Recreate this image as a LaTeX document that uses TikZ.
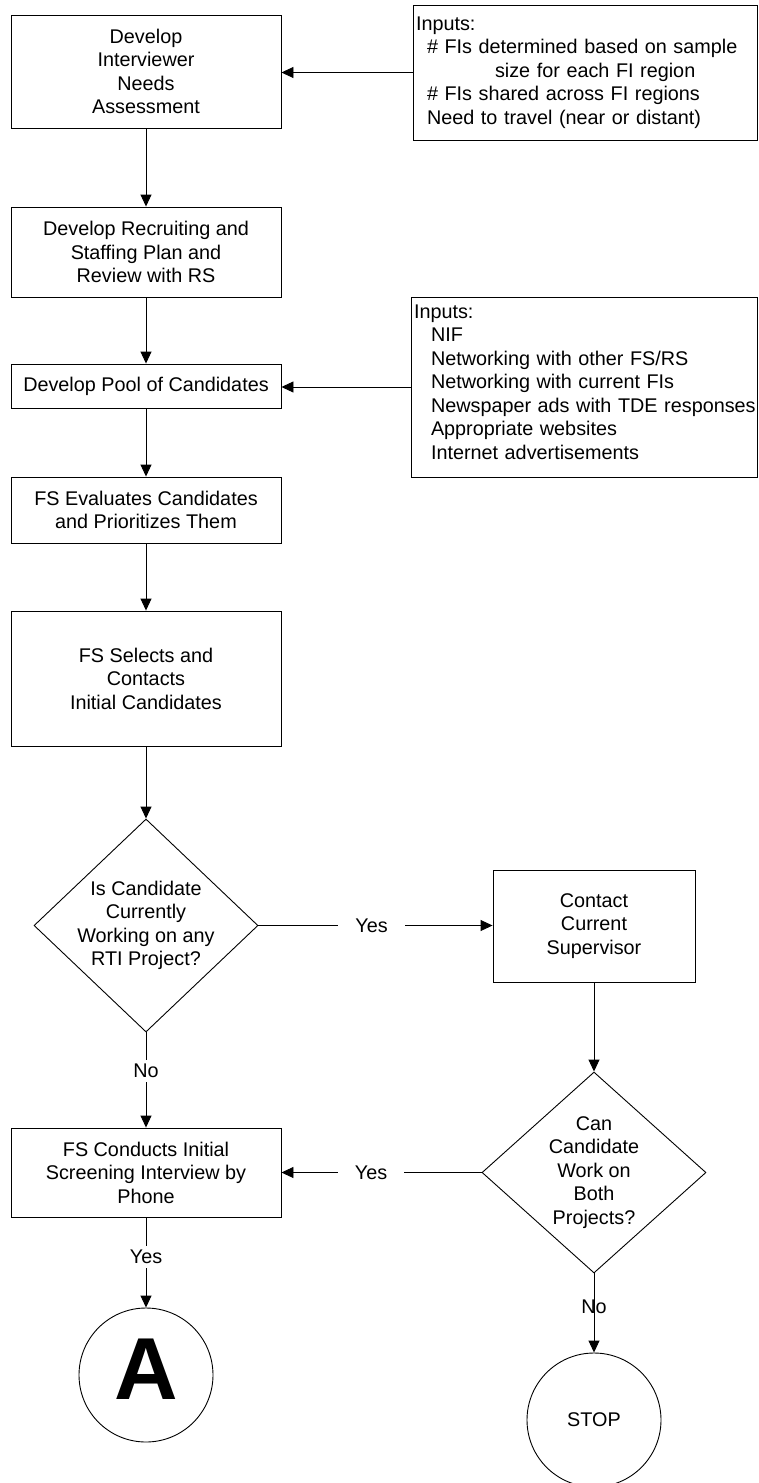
\documentclass[tikz,border=0pt]{standalone}
\usepackage{fontspec}
\setmainfont{Liberation Sans}
\usetikzlibrary{shapes.geometric,arrows.meta}
\begin{document}
\begin{tikzpicture}[x=1pt,y=-1pt,
  font=\fontsize{19.8pt}{23.5pt}\selectfont,
  box/.style={draw, line width=0.9pt, rectangle, inner sep=0pt, align=center},
  inbox/.style={draw, line width=0.9pt, rectangle, inner xsep=3pt, inner ysep=0pt, align=left},
  dec/.style={draw, line width=0.9pt, diamond, inner sep=0pt},
  term/.style={draw, line width=0.9pt, circle, inner sep=0pt, minimum size=134pt},
  arr/.style={line width=0.9pt, -{Triangle[length=12pt,width=11pt]}},
  hlbl/.style={fill=white, inner xsep=17pt, inner ysep=2pt},
  vlbl/.style={fill=white, inner xsep=2pt, inner ysep=4pt},
  plbl/.style={inner sep=0pt},
]
\useasboundingbox (0,0) rectangle (758,1483);

\node[box, minimum width=270pt, minimum height=113pt] (b1) at (146,71.5) {Develop\\Interviewer\\Needs\\Assessment};
\node[inbox, text width=338pt, minimum height=135pt] (in1) at (585,72.5) {\mbox{Inputs:}\\\mbox{\hspace*{11pt}\# FIs determined based on sample}\\\mbox{\hspace*{79pt}size for each FI region}\\\mbox{\hspace*{11pt}\# FIs shared across FI regions}\\\mbox{\hspace*{11pt}Need to travel (near or distant)}};
\node[box, minimum width=270pt, minimum height=90pt] (b2) at (146,252) {Develop Recruiting and\\Staffing Plan and\\Review with RS};
\node[box, minimum width=270pt, minimum height=44pt] (b3) at (146,386) {Develop Pool of Candidates};
\node[inbox, text width=340pt, minimum height=180pt] (in2) at (584,387) {\mbox{Inputs:}\\\mbox{\hspace*{17pt}NIF}\\\mbox{\hspace*{17pt}Networking with other FS/RS}\\\mbox{\hspace*{17pt}Networking with current FIs}\\\mbox{\hspace*{17pt}Newspaper ads with TDE responses}\\\mbox{\hspace*{17pt}Appropriate websites}\\\mbox{\hspace*{17pt}Internet advertisements}\rule[-10pt]{0pt}{0pt}};
\node[box, minimum width=270pt, minimum height=66pt] (b4) at (146,510) {FS Evaluates Candidates\\and Prioritizes Them};
\node[box, minimum width=270pt, minimum height=135pt] (b5) at (146,678.5) {FS Selects and\\Contacts\\Initial Candidates};
\node[dec, minimum width=224pt, minimum height=213pt] (d1) at (146,925.5) {};
\node[align=center, inner sep=0pt] (d1t) at (d1.center) {Is Candidate\\Currently\\Working on any\\RTI Project?};
\node[box, minimum width=202pt, minimum height=112pt] (c1) at (594,926) {Contact\\Current\\Supervisor};
\node[dec, minimum width=224pt, minimum height=201pt] (d2) at (594,1172.5) {};
\node[align=center, inner sep=0pt] (d2t) at (d2.center) {Can\\Candidate\\Work on\\Both\\Projects?};
\node[box, minimum width=270pt, minimum height=89pt] (b6) at (146,1172.5) {FS Conducts Initial\\Screening Interview by\\Phone};
\node[term] (cA) at (146,1375) {};
\node[inner sep=0pt, font=\fontsize{88pt}{88pt}\selectfont\bfseries] (At) at (146,1369) {A};
\node[term] (cS) at (594,1420) {STOP};

\draw[arr] (in1.west) -- (in1.west -| b1.east);
\draw[arr] (b1.south) -- (b2.north);
\draw[arr] (b2.south) -- (b3.north);
\draw[arr] (in2.west) -- (in2.west -| b3.east);
\draw[arr] (b3.south) -- (b4.north);
\draw[arr] (b4.south) -- (b5.north);
\draw[arr] (b5.south) -- (d1.north);
\draw[arr] (d1.east) -- node[hlbl, pos=0.483] {Yes} (d1.east -| c1.west);
\draw[arr] (c1.south) -- (d2.north);
\draw[arr] (d2.west) -- node[hlbl, pos=0.552] {Yes} (d2.west -| b6.east);
\draw[arr] (d1.south) -- node[vlbl, pos=0.406] {No} (b6.north);
\draw[arr] (b6.south) -- node[vlbl, pos=0.44] {Yes} (cA.north);
\draw[arr] (d2.south) -- node[plbl, pos=0.425] {No} (cS.north);
\end{tikzpicture}
\end{document}
